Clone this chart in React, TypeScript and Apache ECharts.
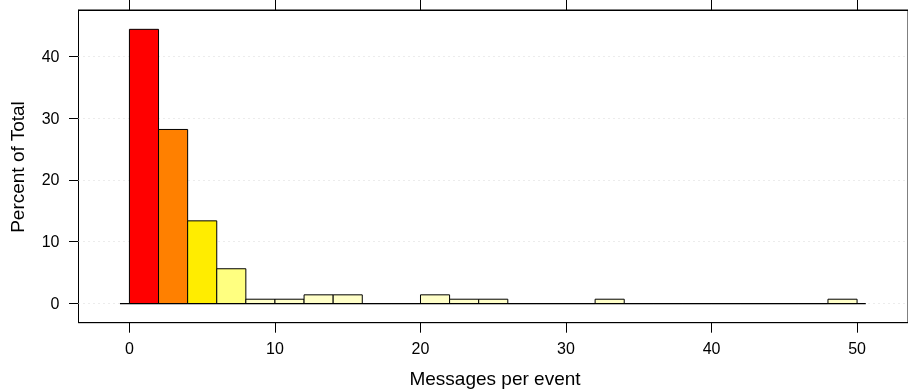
import React, { useEffect, useRef } from "react";
import * as echarts from "echarts";

const binStarts = [0, 2, 4, 6, 8, 10, 12, 14, 16, 18, 20, 22, 24, 26, 28, 30, 32, 34, 36, 38, 40, 42, 44, 46, 48];
const binWidth = 2;
const percents = [44.37, 28.17, 13.38, 5.63, 0.7, 0.7, 1.41, 1.41, 0, 0, 1.41, 0.7, 0.7, 0, 0, 0, 0.7, 0, 0, 0, 0, 0, 0, 0, 0.7];
const xTicks = [0, 10, 20, 30, 40, 50];
const yTicks = [0, 10, 20, 30, 40];
const xTitle = "Messages per event";
const yTitle = "Percent of Total";

const FONT = "'Liberation Sans', Arial, Helvetica, sans-serif";

function colorFor(v: number): string {
  if (v >= 40) return "#FF0000";
  if (v >= 20) return "#FF8000";
  if (v >= 10) return "#FFED00";
  if (v >= 3) return "#FFFF80";
  return "#FFFFC8";
}

export default function App() {
  const ref = useRef<HTMLDivElement>(null);
  useEffect(() => {
    if (!ref.current) return;
    const chart = echarts.init(ref.current, undefined, { renderer: "svg" });
    const data = binStarts.map((s, i) => [s, s + binWidth, percents[i]]);
    const xAxisBase = {
      type: "value" as const,
      min: -3.5,
      max: 53.5,
      splitLine: { show: false },
      axisLine: { show: true, onZero: false, lineStyle: { color: "#000", width: 1 } },
    };
    chart.setOption({
      animation: false,
      grid: {
        left: 78.5,
        top: 10,
        right: -3,
        bottom: 69.3,
        show: true,
        borderColor: "#000",
        borderWidth: 1,
        backgroundColor: "transparent",
      },
      xAxis: [
        {
          ...xAxisBase,
          position: "bottom",
          axisTick: {
            show: true,
            inside: false,
            length: 10,
            customValues: xTicks,
            lineStyle: { color: "#000" },
          },
          axisLabel: {
            show: true,
            customValues: xTicks,
            margin: 18,
            color: "#000",
            fontSize: 16,
            fontFamily: FONT,
          },
        },
        {
          ...xAxisBase,
          position: "top",
          axisTick: {
            show: true,
            inside: false,
            length: 10,
            customValues: xTicks,
            lineStyle: { color: "#000" },
          },
          axisLabel: { show: false },
        },
      ],
      yAxis: {
        type: "value",
        min: -3.1,
        max: 47.5,
        splitLine: { show: false },
        axisLine: { show: true, onZero: false, lineStyle: { color: "#000", width: 1 } },
        axisTick: {
          show: true,
          inside: false,
          length: 9.5,
          customValues: yTicks,
          lineStyle: { color: "#000" },
        },
        axisLabel: {
          show: true,
          customValues: yTicks,
          margin: 19,
          color: "#000",
          fontSize: 16,
          fontFamily: FONT,
        },
      },
      graphic: [
        {
          type: "text",
          x: 495,
          y: 378,
          style: {
            text: xTitle,
            fill: "#000",
            fontSize: 19,
            fontFamily: FONT,
            textAlign: "center",
            textVerticalAlign: "middle",
          },
        },
        {
          type: "text",
          x: 17.5,
          y: 167,
          rotation: Math.PI / 2,
          style: {
            text: yTitle,
            fill: "#000",
            fontSize: 19,
            fontFamily: FONT,
            textAlign: "center",
            textVerticalAlign: "middle",
          },
        },
      ],
      series: [
        {
          type: "line",
          data: [],
          silent: true,
          z: 1,
          markLine: {
            silent: true,
            symbol: "none",
            z: 1,
            label: { show: false },
            lineStyle: { color: "#d9d9d9", type: [1, 4], width: 1 },
            data: yTicks.map((v) => ({ yAxis: v })),
          },
        },
        {
          type: "line",
          data: [
            [-0.65, 0],
            [50.6, 0],
          ],
          symbol: "none",
          silent: true,
          lineStyle: { color: "#000", width: 1.2, type: "solid" },
          z: 6,
        },
        {
          type: "custom",
          z: 4,
          data,
          renderItem: (params: any, api: any) => {
            const s = api.value(0);
            const e = api.value(1);
            const v = api.value(2);
            const p0 = api.coord([s, v]);
            const p1 = api.coord([e, 0]);
            return {
              type: "rect",
              shape: {
                x: p0[0],
                y: p0[1],
                width: p1[0] - p0[0],
                height: p1[1] - p0[1],
              },
              style: {
                fill: colorFor(v),
                stroke: "#000",
                lineWidth: 1,
              },
            };
          },
        },
      ],
    });
    return () => chart.dispose();
  }, []);
  return (
    <div
      ref={ref}
      style={{ position: "fixed", left: 0, top: 0, width: 908, height: 392 }}
    />
  );
}
